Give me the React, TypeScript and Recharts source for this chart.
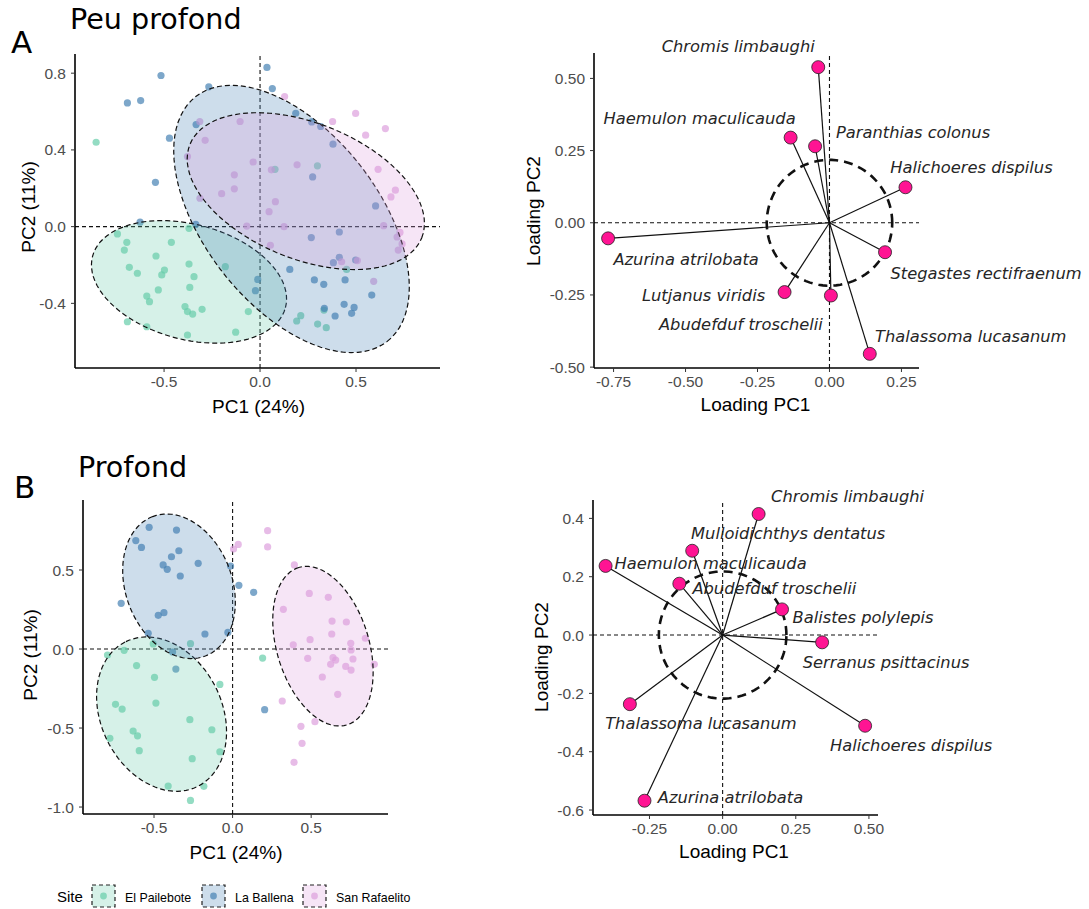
import React from "react";
import { ScatterChart, Scatter, XAxis, YAxis, ReferenceLine } from "recharts";

type Pt = [number, number];

const siteNames = ["El Pailebote", "La Ballena", "San Rafaelito"];
const siteColors = ["#66CDAA", "#4682B4", "#DDA0DD"];

// A - peu profond, site scores
const peuPailebote: Pt[] = [
  [-0.854, 0.44], [-0.743, -0.038], [-0.694, -0.082], [-0.707, -0.122], [-0.681, -0.212], [-0.639, -0.243],
  [-0.542, -0.153], [-0.498, -0.226], [-0.512, -0.252], [-0.462, -0.082], [-0.37, -0.009], [-0.37, -0.195],
  [-0.344, -0.261], [-0.366, -0.317], [-0.53, -0.33], [-0.59, -0.362], [-0.576, -0.391], [-0.691, -0.496],
  [-0.59, -0.522], [-0.391, -0.417], [-0.378, -0.443], [-0.351, -0.456], [-0.302, -0.431], [-0.378, -0.565],
  [-0.181, -0.209], [-0.127, -0.55], [-0.061, -0.443], [0.078, 0.299], [0.299, 0.317], [0.191, -0.492],
  [0.212, -0.464], [0.3, -0.508], [0.345, -0.527], [0.333, -0.435], [0.451, -0.223],
];
const peuBallena: Pt[] = [
  [0.036, 0.83], [-0.516, 0.788], [-0.691, 0.645], [-0.622, 0.657], [-0.267, 0.729], [0.064, 0.72],
  [-0.333, 0.532], [-0.472, 0.461], [-0.545, 0.231], [-0.625, 0.023], [-0.335, 0.012], [0.186, 0.591],
  [0.269, 0.546], [0.316, 0.522], [0.38, 0.43], [0.274, 0.259], [0.602, 0.108], [0.413, -0.028],
  [0.267, -0.057], [0.382, -0.188], [0.413, -0.16], [0.498, -0.174], [0.155, -0.223], [0.283, -0.278],
  [0.332, -0.301], [0.443, -0.278], [0.582, -0.357], [-0.012, -0.275], [-0.024, -0.334], [0.335, -0.426],
  [0.438, -0.405], [0.49, -0.421], [0.477, -0.452], [0.391, -0.466],
];
const peuRafaelito: Pt[] = [
  [0.128, 0.678], [0.498, 0.59], [0.653, 0.511], [0.55, 0.477], [0.378, 0.548], [-0.104, 0.548],
  [-0.314, 0.548], [-0.286, 0.45], [-0.378, 0.365], [-0.036, 0.337], [0.059, 0.296], [0.193, 0.322],
  [-0.134, 0.27], [-0.134, 0.197], [-0.2, 0.172], [-0.313, 0.148], [0.08, 0.13], [0.047, 0.078],
  [-0.069, 0.003], [0.125, 0.0], [0.054, -0.097], [0.615, 0.299], [0.705, 0.19], [0.682, 0.155],
  [0.644, 0.005], [0.729, -0.03], [0.714, -0.054], [0.74, -0.09], [0.72, -0.122], [0.425, -0.183],
  [0.507, -0.177], [0.592, -0.285],
];
// ellipses: centre x, centre y, semi-major, semi-minor, angle (deg)
const peuEllipses = [
  [-0.37, -0.288, 0.52, 0.3, -15],
  [0.164, 0.04, 0.81, 0.454, -52],
  [0.2385, 0.185, 0.651, 0.354, -22],
];

// B - profond, site scores
const profPailebote: Pt[] = [
  [-0.505, 0.032], [-0.268, 0.034], [-0.69, -0.008], [-0.796, -0.038], [-0.611, -0.105], [-0.497, -0.179],
  [0.191, -0.057], [-0.081, -0.224], [-0.745, -0.35], [-0.703, -0.38], [-0.488, -0.342], [-0.272, -0.447],
  [-0.633, -0.519], [-0.605, -0.549], [-0.132, -0.511], [-0.781, -0.565], [-0.594, -0.643], [-0.081, -0.65],
  [-0.257, -0.694], [-0.41, -0.867], [-0.183, -0.869], [-0.268, -0.958],
];
const profBallena: Pt[] = [
  [-0.531, 0.77], [-0.357, 0.753], [-0.616, 0.686], [-0.58, 0.643], [-0.342, 0.622], [-0.389, 0.584],
  [-0.442, 0.532], [-0.416, 0.504], [-0.219, 0.542], [-0.333, 0.462], [-0.013, 0.525], [0.04, 0.403],
  [0.134, 0.359], [-0.709, 0.289], [-0.437, 0.23], [-0.473, 0.213], [-0.176, 0.095], [-0.03, 0.105],
  [-0.537, 0.099], [-0.382, -0.019], [-0.361, -0.127], [0.204, -0.384],
];
const profRafaelito: Pt[] = [
  [0.223, 0.749], [0.036, 0.662], [0.006, 0.633], [0.223, 0.646], [0.393, 0.532], [0.488, 0.352],
  [0.323, 0.251], [0.609, 0.327], [0.633, 0.177], [0.724, 0.171], [0.493, 0.059], [0.631, 0.095],
  [0.845, 0.068], [0.386, 0.027], [0.752, 0.036], [0.478, -0.059], [0.754, -0.006], [0.639, -0.055],
  [0.656, -0.07], [0.624, -0.097], [0.766, -0.063], [0.72, -0.11], [0.754, -0.133], [0.902, -0.097],
  [0.571, -0.177], [0.669, -0.287], [0.316, -0.329], [0.524, -0.46], [0.435, -0.489], [0.442, -0.597],
  [0.391, -0.717],
];
const profEllipses = [
  [-0.452, -0.412, 0.512, 0.384, 117],
  [-0.341, 0.397, 0.472, 0.339, 110.8],
  [0.575, 0.018, 0.521, 0.293, 107.2],
];

// species loadings
const peuSpecies = [
  "Chromis limbaughi", "Haemulon maculicauda", "Paranthias colonus", "Halichoeres dispilus",
  "Azurina atrilobata", "Stegastes rectifraenum", "Lutjanus viridis", "Abudefduf troschelii",
  "Thalassoma lucasanum",
];
const peuPC1 = [-0.039, -0.135, -0.05, 0.264, -0.769, 0.193, -0.156, 0.005, 0.14];
const peuPC2 = [0.539, 0.295, 0.265, 0.123, -0.054, -0.102, -0.24, -0.252, -0.454];

const profSpecies = [
  "Chromis limbaughi", "Mulloidichthys dentatus", "Haemulon maculicauda", "Abudefduf troschelii",
  "Balistes polylepis", "Serranus psittacinus", "Thalassoma lucasanum", "Halichoeres dispilus",
  "Azurina atrilobata",
];
const profPC1 = [0.123, -0.104, -0.4, -0.148, 0.203, 0.34, -0.317, 0.487, -0.267];
const profPC2 = [0.415, 0.289, 0.237, 0.176, 0.088, -0.025, -0.237, -0.311, -0.568];

const contributionRadius = 0.218;

// label offsets in px (text centre relative to point)
const peuLabelOffsets: Pt[] = [
  [-80, -21], [-91, -19], [98, -14], [66, -20], [78, 21], [101, 21], [-81, 3], [-90, 29], [101, -18],
];
const profLabelOffsets: Pt[] = [
  [89, -18], [96, -17], [105, -3], [95, 5], [81, 8], [64, 20], [71, 19], [46, 20], [86, -3],
];

const tickFont = { fill: "#4d4d4d", fontSize: 15.5, fontFamily: "Liberation Sans, Arial, sans-serif" };

const ellipsePoints = (e: number[]) => {
  const [cx, cy, a, b, deg] = e;
  const t = (deg * Math.PI) / 180;
  const n = 90;
  return Array.from({ length: n }, (_, i) => {
    const s = (i / n) * 2 * Math.PI;
    return {
      x: cx + a * Math.cos(t) * Math.cos(s) - b * Math.sin(t) * Math.sin(s),
      y: cy + a * Math.sin(t) * Math.cos(s) + b * Math.cos(t) * Math.sin(s),
    };
  });
};

const hidden = () => <g />;

function axes(xDomain: number[], yDomain: number[], xTicks: number[], yTicks: number[], xDec: number, yDec: number) {
  return [
    <XAxis
      key="x"
      type="number"
      dataKey="x"
      domain={xDomain}
      ticks={xTicks}
      interval={0}
      tickFormatter={(v: number) => v.toFixed(xDec)}
      axisLine={{ stroke: "#000", strokeWidth: 1.6 }}
      tickLine={{ stroke: "#333" }}
      tickSize={4}
      tickMargin={4}
      tick={tickFont}
      height={30}
    />,
    <YAxis
      key="y"
      type="number"
      dataKey="y"
      domain={yDomain}
      ticks={yTicks}
      interval={0}
      tickFormatter={(v: number) => v.toFixed(yDec)}
      axisLine={{ stroke: "#000", strokeWidth: 1.6 }}
      tickLine={{ stroke: "#333" }}
      tickSize={4}
      tickMargin={5}
      tick={tickFont}
      width={60}
    />,
  ];
}

function SitePanel(props: any) {
  const { groups, ellipses, xDomain, yDomain, xTicks, yTicks, width, height, margin } = props;
  return (
    <ScatterChart width={width} height={height} margin={margin}>
      {axes(xDomain, yDomain, xTicks, yTicks, 1, 1)}
      {groups.map((g: Pt[], i: number) => (
        <Scatter
          key={"p" + i}
          name={siteNames[i]}
          data={g.map(([x, y]) => ({ x, y }))}
          isAnimationActive={false}
          shape={(p: any) => <circle cx={p.cx} cy={p.cy} r={3.6} fill={siteColors[i]} fillOpacity={0.7} />}
        />
      ))}
      {ellipses.map((e: number[], i: number) => (
        <Scatter
          key={"e" + i}
          data={ellipsePoints(e)}
          isAnimationActive={false}
          shape={hidden}
          lineJointType="linearClosed"
          line={{ fill: siteColors[i], fillOpacity: 0.27, stroke: "#111", strokeWidth: 1.2, strokeDasharray: "5 3" }}
        />
      ))}
      <ReferenceLine x={0} stroke="#111" strokeDasharray="4 3" strokeWidth={1.1} />
      <ReferenceLine y={0} stroke="#111" strokeDasharray="4 3" strokeWidth={1.1} />
    </ScatterChart>
  );
}

function LoadingPanel(props: any) {
  const { species, pc1, pc2, offsets, xDomain, yDomain, xTicks, yTicks, yDec, width, height, margin } = props;
  const pts = species.map((s: string, i: number) => ({ x: pc1[i], y: pc2[i], name: s, i }));
  const circle = ellipsePoints([0, 0, contributionRadius, contributionRadius, 0]);
  return (
    <ScatterChart width={width} height={height} margin={margin}>
      {axes(xDomain, yDomain, xTicks, yTicks, 2, yDec)}
      <ReferenceLine x={0} stroke="#111" strokeDasharray="4 3" strokeWidth={1.1} />
      <ReferenceLine y={0} stroke="#111" strokeDasharray="4 3" strokeWidth={1.1} />
      <Scatter
        data={circle}
        isAnimationActive={false}
        shape={hidden}
        lineJointType="linearClosed"
        line={{ fill: "none", stroke: "#111", strokeWidth: 2.6, strokeDasharray: "9 6" }}
      />
      {pts.map((p: any) => (
        <Scatter
          key={"s" + p.i}
          data={[{ x: 0, y: 0 }, { x: p.x, y: p.y }]}
          isAnimationActive={false}
          shape={hidden}
          line={{ stroke: "#111", strokeWidth: 1.2, fill: "none" }}
        />
      ))}
      <Scatter
        data={pts}
        isAnimationActive={false}
        shape={(p: any) => (
          <g>
            <circle cx={p.cx} cy={p.cy} r={6.5} fill="#FF1493" stroke="#222" strokeWidth={0.8} />
            <text
              x={p.cx + offsets[p.payload.i][0]}
              y={p.cy + offsets[p.payload.i][1]}
              dy="0.35em"
              textAnchor="middle"
              fontStyle="italic"
              fontFamily="DejaVu Sans, sans-serif"
              fontSize={16.3}
              fill="#262626"
            >
              {p.payload.name}
            </text>
          </g>
        )}
      />
    </ScatterChart>
  );
}

const titleFont = "DejaVu Sans, sans-serif";
const axisFont = "Liberation Sans, Arial, sans-serif";

export default function App() {
  return (
    <div style={{ position: "absolute", left: 0, top: 0, width: 1089, height: 909, background: "#fff" }}>
      <div style={{ position: "absolute", left: 0, top: 0 }}>
        <SitePanel
          groups={[peuPailebote, peuBallena, peuRafaelito]}
          ellipses={peuEllipses}
          xDomain={[-0.964, 0.9375]}
          yDomain={[-0.737, 0.9]}
          xTicks={[-0.5, 0, 0.5]}
          yTicks={[-0.4, 0, 0.4, 0.8]}
          width={460}
          height={430}
          margin={{ top: 54, right: 20, bottom: 32, left: 15 }}
        />
      </div>
      <div style={{ position: "absolute", left: 0, top: 440 }}>
        <SitePanel
          groups={[profPailebote, profBallena, profRafaelito]}
          ellipses={profEllipses}
          xDomain={[-0.952, 0.989]}
          yDomain={[-1.044, 0.943]}
          xTicks={[-0.5, 0, 0.5]}
          yTicks={[-1, -0.5, 0, 0.5]}
          width={400}
          height={420}
          margin={{ top: 60, right: 12, bottom: 16, left: 23 }}
        />
      </div>
      <div style={{ position: "absolute", left: 520, top: 0 }}>
        <LoadingPanel
          species={peuSpecies}
          pc1={peuPC1}
          pc2={peuPC2}
          offsets={peuLabelOffsets}
          xDomain={[-0.818, 0.311]}
          yDomain={[-0.503, 0.588]}
          xTicks={[-0.75, -0.5, -0.25, 0, 0.25]}
          yTicks={[-0.5, -0.25, 0, 0.25, 0.5]}
          yDec={2}
          width={569}
          height={430}
          margin={{ top: 53, right: 170, bottom: 32, left: 14 }}
        />
      </div>
      <div style={{ position: "absolute", left: 520, top: 440 }}>
        <LoadingPanel
          species={profSpecies}
          pc1={profPC1}
          pc2={profPC2}
          offsets={profLabelOffsets}
          xDomain={[-0.443, 0.531]}
          yDomain={[-0.617, 0.463]}
          xTicks={[-0.25, 0, 0.25, 0.5]}
          yTicks={[-0.6, -0.4, -0.2, 0, 0.2, 0.4]}
          yDec={1}
          width={569}
          height={420}
          margin={{ top: 60, right: 211, bottom: 15, left: 13 }}
        />
      </div>
      <svg width={1089} height={909} style={{ position: "absolute", left: 0, top: 0, pointerEvents: "none" }}>
        <text x={11} y={53} fontFamily={titleFont} fontSize={31} fill="#000">A</text>
        <text x={70} y={29} fontFamily={titleFont} fontSize={28.6} fill="#000">Peu profond</text>
        <text x={14} y={498} fontFamily={titleFont} fontSize={31} fill="#000">B</text>
        <text x={78} y={477} fontFamily={titleFont} fontSize={28.6} fill="#000">Profond</text>

        <g fontFamily={axisFont} fontSize={19} fill="#000" textAnchor="middle">
          <text x={258.5} y={413}>PC1 (24%)</text>
          <text transform="translate(35,207) rotate(-90)">PC2 (11%)</text>
          <text x={755.5} y={411}>Loading PC1</text>
          <text transform="translate(540,211) rotate(-90)">Loading PC2</text>
          <text x={236} y={859}>PC1 (24%)</text>
          <text transform="translate(37,655) rotate(-90)">PC2 (11%)</text>
          <text x={734} y={858}>Loading PC1</text>
          <text transform="translate(548,657) rotate(-90)">Loading PC2</text>
        </g>

        <g fontFamily={axisFont}>
          <text x={57} y={902} fontSize={15} fill="#000">Site</text>
          {siteNames.map((s, i) => {
            const kx = [92, 202, 303][i];
            return (
              <g key={s}>
                <rect x={kx} y={885} width={23} height={22} fill={siteColors[i]} fillOpacity={0.27} stroke="#222" strokeWidth={1.2} strokeDasharray="4 3" />
                <circle cx={kx + 11.5} cy={896} r={3.4} fill={siteColors[i]} fillOpacity={0.7} />
                <text x={kx + 33} y={901.5} fontSize={12.4} fill="#000">{s}</text>
              </g>
            );
          })}
        </g>
      </svg>
    </div>
  );
}
